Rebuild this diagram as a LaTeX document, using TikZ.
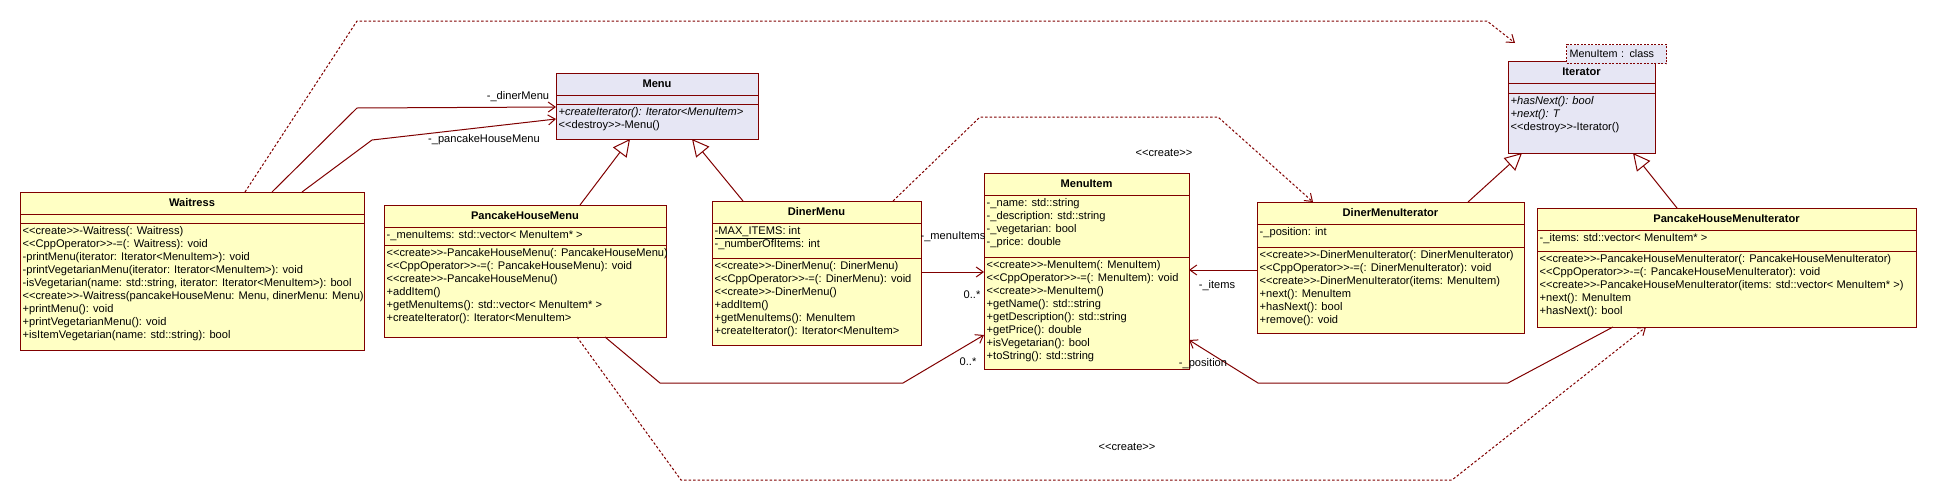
\documentclass[tikz,border=0pt]{standalone}
\usepackage{fontspec}
\setmainfont{Liberation Sans}
\usepackage{tikz}
\usetikzlibrary{arrows.meta, positioning}

\definecolor{umlline}{HTML}{800000}
\definecolor{umlyellow}{HTML}{FFFFC4}
\definecolor{umllilac}{HTML}{E6E6F4}

\newcommand{\stereo}[1]{<{}<#1>{}>}

% class box: [fill] name, north west corner, width, height, attribute part height, title, attributes, operations
\newcommand{\umlclass}[9][umlyellow]{%
  \node (#2) [classbox, fill=#1, minimum width=#4, minimum height=#5, anchor=north west] at (#3) {};
  \draw [boxline] ([yshift=-22pt]#2.north west) -- ([yshift=-22pt]#2.north east);
  \draw [boxline] ([yshift=-22pt-#6]#2.north west) -- ([yshift=-22pt-#6]#2.north east);
  \node (#2-name) [classname] at ([yshift=-11pt]#2.north) {#7};
  \node (#2-attr) [members] at ([yshift=-22pt]#2.north west) {#8};
  \node (#2-ops) [members] at ([yshift=-22pt-#6]#2.north west) {#9};
}

\begin{document}
\begin{tikzpicture}[x=1pt, y=-1pt,
    classbox/.style={draw=umlline, line width=1pt, inner sep=0pt, outer sep=0pt},
    boxline/.style={draw=umlline, line width=1pt},
    classname/.style={font=\fontsize{11.1}{13}\selectfont\bfseries, inner sep=0pt},
    members/.style={anchor=north west, align=left, inner xsep=2.5pt, inner ysep=3pt,
      font=\fontsize{11.1}{13}\selectfont},
    tplbox/.style={draw=umlline, fill=umllilac, line width=1pt, dash pattern=on 2pt off 1.5pt,
      text width=94pt, inner xsep=3pt, inner ysep=0pt, align=left, font=\fontsize{10.8}{12}\selectfont},
    connlabel/.style={inner sep=0pt, font=\fontsize{11.1}{13}\selectfont},
    assoc/.style={draw=umlline, line width=1pt, -{Straight Barb[length=7pt, width=10pt]}},
    dep/.style={assoc, dash pattern=on 2.5pt off 2pt},
    inherit/.style={draw=umlline, line width=1pt, -{Triangle[open, length=17pt, width=17pt]}}]

  \useasboundingbox (0,0) rectangle (1936,501);

  % classes
  \umlclass{waitress}{20,192}{344pt}{158pt}{9pt}{Waitress}{}{%
    \stereo{create}-Waitress(: Waitress)\\
    \stereo{CppOperator}-=(: Waitress): void\\
    -printMenu(iterator: Iterator<MenuItem>): void\\
    -printVegetarianMenu(iterator: Iterator<MenuItem>): void\\
    -isVegetarian(name: std::string, iterator: Iterator<MenuItem>): bool\\
    \stereo{create}-Waitress(pancakeHouseMenu: Menu, dinerMenu: Menu)\\
    +printMenu(): void\\
    +printVegetarianMenu(): void\\
    +isItemVegetarian(name: std::string): bool}

  \umlclass[umllilac]{menu}{556,73}{202pt}{66pt}{9pt}{Menu}{}{%
    \textit{+createIterator(): Iterator<MenuItem>}\\
    \stereo{destroy}-Menu()}

  \umlclass{phm}{384,205}{282pt}{132pt}{18pt}{PancakeHouseMenu}{%
    -\_menuItems: std::vector< MenuItem* >}{%
    \stereo{create}-PancakeHouseMenu(: PancakeHouseMenu)\\
    \stereo{CppOperator}-=(: PancakeHouseMenu): void\\
    \stereo{create}-PancakeHouseMenu()\\
    +addItem()\\
    +getMenuItems(): std::vector< MenuItem* >\\
    +createIterator(): Iterator<MenuItem>}

  \umlclass{dinermenu}{712,201}{209pt}{144pt}{35pt}{DinerMenu}{%
    \underline{-MAX\_ITEMS: int}\\
    -\_numberOfItems: int}{%
    \stereo{create}-DinerMenu(: DinerMenu)\\
    \stereo{CppOperator}-=(: DinerMenu): void\\
    \stereo{create}-DinerMenu()\\
    +addItem()\\
    +getMenuItems(): MenuItem\\
    +createIterator(): Iterator<MenuItem>}

  \umlclass{menuitem}{984,173}{205pt}{196pt}{62pt}{MenuItem}{%
    -\_name: std::string\\
    -\_description: std::string\\
    -\_vegetarian: bool\\
    -\_price: double}{%
    \stereo{create}-MenuItem(: MenuItem)\\
    \stereo{CppOperator}-=(: MenuItem): void\\
    \stereo{create}-MenuItem()\\
    +getName(): std::string\\
    +getDescription(): std::string\\
    +getPrice(): double\\
    +isVegetarian(): bool\\
    +toString(): std::string}

  \umlclass{dmi}{1257,202}{267pt}{131pt}{23pt}{DinerMenuIterator}{%
    -\_position: int}{%
    \stereo{create}-DinerMenuIterator(: DinerMenuIterator)\\
    \stereo{CppOperator}-=(: DinerMenuIterator): void\\
    \stereo{create}-DinerMenuIterator(items: MenuItem)\\
    +next(): MenuItem\\
    +hasNext(): bool\\
    +remove(): void}

  \umlclass{phmi}{1537,208}{379pt}{119pt}{21pt}{PancakeHouseMenuIterator}{%
    -\_items: std::vector< MenuItem* >}{%
    \stereo{create}-PancakeHouseMenuIterator(: PancakeHouseMenuIterator)\\
    \stereo{CppOperator}-=(: PancakeHouseMenuIterator): void\\
    \stereo{create}-PancakeHouseMenuIterator(items: std::vector< MenuItem* >)\\
    +next(): MenuItem\\
    +hasNext(): bool}

  \umlclass[umllilac]{iterator}{1508,61}{147pt}{92pt}{10pt}{Iterator}{}{%
    \textit{+hasNext(): bool}\\
    \textit{+next(): T}\\
    \stereo{destroy}-Iterator()}

  \node (itertpl) [tplbox, anchor=north west, minimum height=19pt] at (1566,44) {MenuItem : class};

  % generalisations
  \draw [inherit] ([xshift=196pt]phm.north west) -- ([xshift=74pt]menu.south west);
  \draw [inherit] ([xshift=31pt]dinermenu.north west) -- ([xshift=136pt]menu.south west);
  \draw [inherit] ([xshift=211pt]dmi.north west) -- ([xshift=14pt]iterator.south west);
  \draw [inherit] ([xshift=140pt]phmi.north west) -- ([xshift=125pt]iterator.south west);

  % associations
  \draw [assoc] ([xshift=252pt]waitress.north west) -- (357,108) -- ([yshift=-1pt]menu.west);
  \draw [assoc] ([xshift=282pt]waitress.north west) -- (372,140) -- ([yshift=-13pt]menu.west);
  \draw [assoc] ([yshift=-71pt]dinermenu.north east) -- ([yshift=-71pt]dinermenu.north east -| menuitem.west);
  \draw [assoc] ([xshift=221pt]phm.south west) -- (660,383) -- (903,383) -- ([yshift=-162pt]menuitem.north west);
  \draw [assoc] ([yshift=-68pt]dmi.north west) -- ([yshift=-68pt]dmi.north west -| menuitem.east);
  \draw [assoc] ([xshift=76pt]phmi.south west) -- (1508,383) -- (1258,383) -- ([yshift=-167pt]menuitem.north east);

  % dependencies
  \draw [dep] ([xshift=225pt]waitress.north west) -- (357,21) -- (1487,21) -- ([xshift=7pt, yshift=18pt]iterator.north west);
  \draw [dep] ([xshift=181pt]dinermenu.north west) -- (980,117) -- (1218,117) -- ([xshift=56pt]dmi.north west);
  \draw [dep] ([xshift=193pt]phm.south west) -- (681,480) -- (1452,480) -- ([xshift=109pt]phmi.south west);

  % labels
  \node (lbl-diner) [connlabel] at (518,97) {-\_dinerMenu};
  \node (lbl-pancake) [connlabel] at (484,140) {-\_pancakeHouseMenu};
  \node (lbl-items) [connlabel] at (953,237) {-\_menuItems};
  \node (lbl-many1) [connlabel] at (972,295) {0..*};
  \node (lbl-many2) [connlabel] at (968,362) {0..*};
  \node (lbl-iter) [connlabel] at (1217,286) {-\_items};
  \node (lbl-pos) [connlabel] at (1203,364) {-\_position};
  \node (lbl-create1) [connlabel] at (1164,153) {\stereo{create}};
  \node (lbl-create2) [connlabel] at (1127,447) {\stereo{create}};
\end{tikzpicture}
\end{document}
